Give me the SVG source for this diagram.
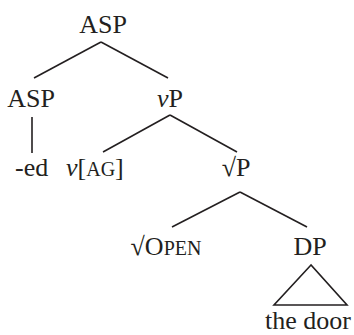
<svg xmlns="http://www.w3.org/2000/svg" width="354" height="335" viewBox="0 0 354 335" font-family="Liberation Serif, serif">
<style>
text{font-family:'Liberation Serif',serif;font-size:26px;fill:#231f20}
.sc{font-size:20px}
.it{font-style:italic}
#edges line,#edges polygon{stroke:#231f20;stroke-width:1.6;fill:none}
</style>
<rect width="354" height="335" fill="#fff"/>
<g id="edges">
<line x1="101" y1="42" x2="34" y2="78"/>
<line x1="101" y1="42" x2="168" y2="78"/>
<line x1="32" y1="117" x2="32" y2="153"/>
<line x1="170" y1="115" x2="103" y2="152"/>
<line x1="170" y1="115" x2="237" y2="152"/>
<line x1="240" y1="192" x2="172" y2="227"/>
<line x1="240" y1="192" x2="307" y2="227"/>
<polygon points="311,265 274,305 347,305"/>
</g>
<g id="n-asp-top"><text x="103" y="33" text-anchor="middle">ASP</text></g>
<g id="n-asp"><text x="31" y="107" text-anchor="middle">ASP</text></g>
<g id="n-vp"><text x="170" y="107" text-anchor="middle"><tspan class="it">v</tspan>P</text></g>
<g id="n-ed"><text x="15" y="176">-ed</text></g>
<g id="n-vag"><text x="66" y="176"><tspan class="it">v</tspan>[<tspan class="sc">AG</tspan>]</text></g>
<g id="n-rootp"><text x="236" y="176" text-anchor="middle">√P</text></g>
<g id="n-open"><text x="166" y="255" text-anchor="middle">√O<tspan class="sc">PEN</tspan></text></g>
<g id="n-dp"><text x="310" y="255" text-anchor="middle">DP</text></g>
<g id="n-door"><text x="265" y="329">the door</text></g>
</svg>
